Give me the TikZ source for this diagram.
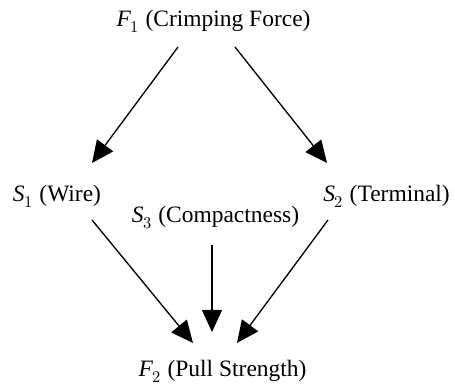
\documentclass[tikz,border=0pt]{standalone}
\usepackage{fontspec}
\setmainfont{Liberation Serif}
\usepackage{unicode-math}
\setmathfont{Latin Modern Math}
\usetikzlibrary{arrows.meta, calc}

\tikzset{
  lbl/.style={inner sep=0pt, anchor=base, font=\fontsize{17.6}{20}\selectfont},
  arr/.style={line width=1pt, -{Triangle[length=16.5pt, width=15pt]}}
}

\begin{document}
\begin{tikzpicture}[x=0.75pt, y=-0.75pt]
\useasboundingbox (0,0) rectangle (455,384);
\node[lbl] (f1) at (213.5,27) {$\mathit{F}_1$ (Crimping Force)};
\node[lbl] (s1) at (57,202) {$\mathit{S}_1$ (Wire)};
\node[lbl] (s2) at (386.5,202) {$\mathit{S}_2$ (Terminal)};
\node[lbl] (s3) at (215.5,223) {$\mathit{S}_3$ (Compactness)};
\node[lbl] (f2) at (222.5,377) {$\mathit{F}_2$ (Pull Strength)};
\draw[arr] ($(f1.base)+(-35.5,20)$) -- ($(s1.base)+(35,-39)$);
\draw[arr] ($(f1.base)+(21.5,20)$) -- ($(s2.base)+(-59.5,-39)$);
\draw[arr] ($(s1.base)+(35,18)$) -- ($(f2.base)+(-29.5,-34)$);
\draw[arr] ($(s3.base)+(-3.5,22)$) -- ($(f2.base)+(-10.5,-45)$);
\draw[arr] ($(s2.base)+(-58.5,18)$) -- ($(f2.base)+(14.5,-34)$);
\end{tikzpicture}
\end{document}
